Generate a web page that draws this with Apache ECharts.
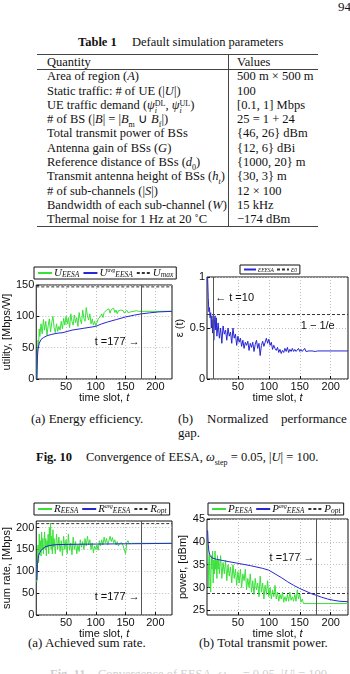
<!DOCTYPE html>
<html>
<head>
<meta charset="utf-8">
<script src="https://cdn.jsdelivr.net/npm/echarts@6/dist/echarts.min.js"></script>
<style>
body { margin: 0; background: #fff; }
#page { position: relative; width: 350px; height: 674px; overflow: hidden; font-family: 'Liberation Serif', serif; color: #111; }
.t { position: absolute; white-space: nowrap; font-size: 13px; line-height: 14px; }
.c { font-size: 12.5px; }
.rule { position: absolute; background: #444; }
.ss { display: inline-block; vertical-align: -4px; line-height: 7px; font-size: 8px; text-align: left; }
#chart { position: absolute; left: 0; top: 0; width: 350px; height: 674px; }
i { font-style: italic; }
</style>
</head>
<body>
<div id="page">
  <div class="t" style="left:338px;top:0px;">94</div>

  <div class="t c" style="left:78px;top:35px;"><b>Table 1</b></div>
  <div class="t c" style="left:132px;top:35px;">Default simulation parameters</div>

  <div class="rule" style="left:37px;top:54px;width:281px;height:1px;"></div>
  <div class="rule" style="left:37px;top:69px;width:281px;height:1px;"></div>
  <div class="rule" style="left:37px;top:226px;width:281px;height:1px;"></div>
  <div class="rule" style="left:228px;top:54px;width:1px;height:173px;"></div>

  <div class="t c" style="left:47px;top:54.5px;">Quantity</div>
  <div class="t c" style="left:237px;top:54.5px;">Values</div>

  <div class="t c" style="left:47px;top:69.2px;">Area of region (<i>A</i>)</div>
  <div class="t c" style="left:237px;top:69.2px;">500 m × 500 m</div>
  <div class="t c" style="left:47px;top:83.5px;">Static traffic: # of UE (|<i>U</i>|)</div>
  <div class="t c" style="left:237px;top:83.5px;">100</div>
  <div class="t c" style="left:47px;top:97.8px;">UE traffic demand (<i>ψ</i><span class="ss">DL<br><i>i</i></span>, <i>ψ</i><span class="ss">UL<br><i>i</i></span>)</div>
  <div class="t c" style="left:237px;top:97.8px;">[0.1, 1] Mbps</div>
  <div class="t c" style="left:47px;top:112.1px;"># of BS (|<i>B</i>| = |<i>B</i><sub style="font-size:8px">m</sub> ∪ <i>B</i><sub style="font-size:8px">f</sub>|)</div>
  <div class="t c" style="left:237px;top:112.1px;">25 = 1 + 24</div>
  <div class="t c" style="left:47px;top:126.4px;">Total transmit power of BSs</div>
  <div class="t c" style="left:237px;top:126.4px;">{46, 26} dBm</div>
  <div class="t c" style="left:47px;top:140.7px;">Antenna gain of BSs (<i>G</i>)</div>
  <div class="t c" style="left:237px;top:140.7px;">{12, 6} dBi</div>
  <div class="t c" style="left:47px;top:155px;">Reference distance of BSs (<i>d</i><sub style="font-size:8px">0</sub>)</div>
  <div class="t c" style="left:237px;top:155px;">{1000, 20} m</div>
  <div class="t c" style="left:47px;top:169.3px;">Transmit antenna height of BSs (<i>h<sub style="font-size:8px">t</sub></i>)</div>
  <div class="t c" style="left:237px;top:169.3px;">{30, 3} m</div>
  <div class="t c" style="left:47px;top:183.6px;"># of sub-channels (|<i>S</i>|)</div>
  <div class="t c" style="left:237px;top:183.6px;">12 × 100</div>
  <div class="t c" style="left:47px;top:197.9px;">Bandwidth of each sub-channel (<i>W</i>)</div>
  <div class="t c" style="left:237px;top:197.9px;">15 kHz</div>
  <div class="t c" style="left:47px;top:212.2px;">Thermal noise for 1 Hz at 20 ˚C</div>
  <div class="t c" style="left:237px;top:212.2px;">−174 dBm</div>

  <div class="t" style="left:31px;top:412px;">(a) Energy efficiency.</div>
  <div class="t" style="left:178px;top:412px;">(b)</div>
  <div class="t" style="left:207px;top:412px;">Normalized</div>
  <div class="t" style="left:281px;top:412px;">performance</div>
  <div class="t" style="left:178px;top:426px;">gap.</div>
  <div class="t c" style="left:36px;top:450px;"><b>Fig. 10</b></div>
  <div class="t c" style="left:86px;top:450px;">Convergence of EESA, <i>ω</i><sub style="font-size:8px">step</sub> = 0.05, |<i>U</i>| = 100.</div>

  <div class="t" style="left:28px;top:636px;">(a) Achieved sum rate.</div>
  <div class="t" style="left:199px;top:636px;">(b) Total transmit power.</div>
  <div class="t c" style="left:50px;top:667px;color:#d0d0d0;"><b>Fig. 11</b>&nbsp;&nbsp;&nbsp;&nbsp;Convergence of EESA, <i>ω</i><sub style="font-size:8px">step</sub> = 0.05, |<i>U</i>| = 100.</div>

  <div id="chart"></div>
</div>
<script>
// ---- data (time slot, value) ----
const xTicks = [50, 100, 150, 200];
const tMax = 228;

// (a) energy efficiency
const uTicks = [0, 50, 100, 150];
const uEesa = [[1,0],[2,40],[3,62],[4,55],[5,80],[6,68],[8,88],[10,72],[12,95],[14,78],[16,92],[18,70],[20,85],[22,96],[24,75],[26,90],[28,100],[30,82],[32,74],[34,88],[36,76],[38,84],[40,78],[42,92],[44,80],[46,97],[48,86],[50,100],[52,88],[54,98],[56,82],[58,104],[60,92],[62,86],[64,102],[66,90],[68,98],[70,84],[72,106],[74,95],[76,88],[78,110],[80,97],[82,92],[84,114],[86,100],[88,94],[90,104],[92,88],[94,96],[96,86],[98,92],[100,85],[102,90],[104,96],[106,93],[108,100],[110,104],[112,98],[114,106],[116,103],[118,110],[120,107],[122,112],[124,105],[126,111],[128,108],[130,113],[132,106],[134,110],[136,104],[138,109],[140,106],[142,110],[144,107],[146,109],[148,105],[150,108],[152,110],[154,106],[156,109],[158,107],[160,109],[164,108],[168,109],[172,108],[177,108],[228,108]];
const uAvg = [[1,0],[2,35],[3,48],[5,57],[8,63],[12,66],[18,69],[25,71],[35,73],[45,74],[60,78],[80,81],[100,84],[110,88],[120,91],[135,95],[150,99],[165,102],[177,104],[190,105.5],[205,107],[228,108]];
const uMax = 147;

// (b) normalized performance gap
const eTicks = [0, 0.5, 1];
const eps = [[1,1.0],[2,0.8],[3,0.66],[4,0.7],[5,0.6],[6,0.65],[7,0.5],[8,0.62],[9,0.45],[10,0.58],[11,0.38],[12,0.55],[13,0.62],[14,0.48],[15,0.6],[16,0.42],[18,0.55],[20,0.4],[22,0.5],[24,0.35],[26,0.52],[28,0.44],[30,0.48],[32,0.38],[34,0.5],[36,0.42],[38,0.46],[40,0.35],[42,0.5],[44,0.4],[46,0.44],[48,0.33],[50,0.42],[52,0.36],[54,0.4],[56,0.32],[58,0.38],[60,0.3],[62,0.36],[64,0.33],[66,0.37],[68,0.28],[70,0.35],[72,0.31],[74,0.36],[76,0.27],[78,0.34],[80,0.38],[82,0.3],[84,0.35],[86,0.23],[88,0.33],[90,0.37],[92,0.32],[94,0.36],[96,0.4],[98,0.35],[100,0.39],[102,0.33],[104,0.36],[106,0.29],[108,0.33],[110,0.3],[112,0.28],[114,0.31],[116,0.26],[118,0.29],[120,0.25],[122,0.28],[124,0.26],[126,0.3],[128,0.27],[130,0.31],[132,0.26],[134,0.29],[136,0.27],[138,0.3],[140,0.27],[142,0.29],[144,0.27],[146,0.28],[148,0.3],[150,0.27],[152,0.29],[154,0.27],[156,0.28],[158,0.3],[160,0.27],[165,0.275],[170,0.275],[175,0.27],[177,0.26],[179,0.275],[228,0.275]];
const eps0 = 0.632;

// (a) achieved sum rate
const rTicks = [0, 50, 100, 150, 200];
const rEesa = [[1,75],[2,130],[3,160],[4,120],[5,185],[6,145],[7,170],[8,135],[9,190],[10,150],[11,175],[12,140],[13,165],[14,190],[15,150],[16,175],[17,135],[18,170],[19,155],[20,185],[21,140],[22,200],[23,160],[24,210],[25,150],[26,180],[27,140],[28,195],[29,155],[30,175],[32,140],[34,185],[36,150],[38,178],[40,145],[42,170],[44,135],[46,180],[48,150],[50,172],[52,140],[54,185],[56,148],[58,165],[60,138],[62,178],[64,150],[66,168],[68,140],[70,160],[72,145],[74,172],[76,155],[78,168],[80,150],[82,175],[84,158],[86,180],[88,160],[90,172],[92,150],[94,165],[96,142],[98,158],[100,150],[102,160],[104,148],[106,170],[108,158],[110,172],[112,160],[114,178],[116,165],[118,175],[120,160],[122,170],[124,180],[126,168],[128,177],[130,165],[132,172],[134,160],[136,168],[138,158],[140,164],[142,160],[144,165],[146,158],[148,162],[150,140],[152,165],[154,170],[156,163],[160,164],[228,164]];
const rAvg = [[1,80],[2,115],[3,128],[4,136],[6,143],[8,148],[11,152],[15,156],[20,158],[27,160],[35,161],[50,161.5],[80,162],[120,162.5],[160,163],[200,163.5],[228,164]];
const rOpt = 209;

// (b) total transmit power
const pTicks = [25, 30, 35, 40, 45];
const pEesa = [[1,40],[2,36],[3,30],[4,37],[5,33],[6,29],[7,37],[8,34],[9,38],[10,31],[11,36],[12,33],[13,38],[14,34],[15,36],[16,32],[17,37],[18,34],[19,36],[20,33],[22,37],[24,32],[26,35.5],[28,33],[30,36],[32,31.5],[34,35],[36,32.5],[38,34.5],[40,31],[42,35],[44,32],[46,34],[48,30.5],[50,33.5],[52,31],[54,34],[56,30],[58,33],[60,31.5],[62,34],[64,29.5],[66,32],[68,30],[70,33],[72,29],[74,31.5],[76,28.5],[78,32],[80,29.5],[82,31],[84,28],[86,32.5],[88,29],[90,31],[92,27.5],[94,30.5],[96,28.5],[98,31.5],[100,28],[102,30],[104,27.5],[106,29.5],[108,28],[110,30.5],[112,27.5],[114,29],[116,27],[118,28.5],[120,27.5],[122,29],[124,26.8],[126,28],[128,27],[130,28.5],[132,27],[134,29],[136,27.2],[138,28],[140,27],[142,28.5],[144,27],[146,29.5],[148,27.5],[150,28.5],[152,26.8],[154,27.5],[156,26.5],[228,26.5]];
const pAvg = [[1,42.5],[2,39.5],[3,38],[5,37],[8,36.5],[15,36.2],[30,35.8],[50,35.3],[70,34.8],[90,34.2],[100,33.8],[110,33],[120,32.2],[130,31.3],[140,30.5],[150,29.8],[160,29.2],[170,28.6],[177,28.3],[185,27.9],[195,27.5],[205,27.2],[215,27],[228,26.9]];
const pOpt = 28.7;

const GREEN = '#38e038';
const BLUE = '#2626d2';
const SANS = 'Liberation Sans';
const SERIF = 'Liberation Serif';

const chart = echarts.init(document.getElementById('chart'));

const grids = [
  { left: 34, top: 285, width: 138, height: 94 },
  { left: 207, top: 277, width: 141, height: 102 },
  { left: 34, top: 521, width: 138, height: 94 },
  { left: 207, top: 519, width: 141, height: 96 }
].map(g => Object.assign({ show: true, borderColor: '#111', borderWidth: 1, backgroundColor: 'transparent' }, g));

const dotted = { show: true, lineStyle: { color: '#bdbdbd', type: [1, 2], width: 1 } };

function xAx(i, gap, labelMargin) {
  return {
    type: 'value', gridIndex: i, min: 0, max: tMax,
    axisLine: { show: false },
    axisTick: { inside: true, length: 3, customValues: xTicks, lineStyle: { color: '#111' } },
    axisLabel: { customValues: xTicks, margin: labelMargin, fontSize: 11, color: '#111', fontFamily: SANS },
    splitLine: dotted,
    name: 'time slot, {i|t}', nameLocation: 'middle', nameGap: gap,
    nameTextStyle: { fontSize: 11, color: '#111', fontFamily: SANS, rich: { i: { fontStyle: 'italic', fontSize: 11, fontFamily: SANS } } }
  };
}
function yAx(i, min, max, ticks, name, gap) {
  return {
    type: 'value', gridIndex: i, min: min, max: max,
    axisLine: { show: false },
    axisTick: { inside: true, length: 3, customValues: ticks, lineStyle: { color: '#111' } },
    axisLabel: { customValues: ticks, margin: 2, fontSize: 11, color: '#111', fontFamily: SANS },
    splitLine: dotted,
    name: name, nameLocation: 'middle', nameGap: gap,
    nameTextStyle: { fontSize: 11, color: '#111', fontFamily: SANS }
  };
}

function line(name, i, data, color, z) {
  return {
    type: 'line', name: name, xAxisIndex: i, yAxisIndex: i, data: data,
    symbol: 'none', showSymbol: false, silent: true, z: z,
    lineStyle: { color: color, width: 1 }, itemStyle: { color: color }
  };
}
function level(name, i, v) {
  const s = line(name, i, [[0, v], [tMax, v]], '#333', 1);
  s.lineStyle.type = [3, 2];
  return s;
}
function vLine(t) {
  return { silent: true, symbol: 'none', label: { show: false }, lineStyle: { color: '#555', type: 'solid', width: 1 }, data: [{ xAxis: t }] };
}
function note(coord, text, pos) {
  return {
    symbol: 'circle', symbolSize: 0, silent: true,
    data: [{ coord: coord, label: { show: true, position: pos, distance: 2, formatter: text, color: '#111', fontSize: 11, fontFamily: SANS } }]
  };
}

const legendText = {
  U_EESA: '{m|U}{s|EESA}', U_avg: '{m|U}{p|avg}{s|EESA}', U_max: '{m|U}{s|max}',
  e_EESA: '{m2|ε}{s2|EESA}', e_0: '{m2|ε}{s2|0}',
  R_EESA: '{m|R}{s|EESA}', R_avg: '{m|R}{p|avg}{s|EESA}', R_opt: '{m|R}{s|opt}',
  P_EESA: '{m|P}{s|EESA}', P_avg: '{m|P}{p|avg}{s|EESA}', P_opt: '{m|P}{s|opt}'
};
const rich = {
  m: { fontFamily: SERIF, fontStyle: 'italic', fontSize: 11, lineHeight: 12, color: '#111' },
  s: { fontFamily: SERIF, fontStyle: 'italic', fontSize: 7.5, lineHeight: 8, padding: [4, 0, 0, 0], color: '#111' },
  p: { fontFamily: SERIF, fontStyle: 'italic', fontSize: 5.5, lineHeight: 7, padding: [0, 0, 5, 0], color: '#111' },
  m2: { fontFamily: SERIF, fontStyle: 'italic', fontSize: 8, lineHeight: 9, color: '#111' },
  s2: { fontFamily: SERIF, fontStyle: 'italic', fontSize: 5.5, lineHeight: 6, padding: [3, 0, 0, 0], color: '#111' }
};
function legend(left, top, names, w, gap) {
  return {
    left: left, top: top, data: names, orient: 'horizontal', selectedMode: false,
    borderColor: '#111', borderWidth: 1, borderRadius: 0, padding: [0, 3, 0, 3],
    itemWidth: w, itemHeight: 8, itemGap: gap,
    itemStyle: { opacity: 0 },
    formatter: n => legendText[n], textStyle: { rich: rich, padding: [0, 0, 0, -3] }
  };
}

const uA = line('U_avg', 0, uAvg, BLUE, 3);
uA.markLine = vLine(177);
uA.markPoint = note([177, 59], 't =177 →', 'left');

const eS = line('e_EESA', 1, eps, BLUE, 3);
eS.markLine = vLine(10);
eS.markPoint = {
  symbol: 'circle', symbolSize: 0, silent: true,
  data: [
    { coord: [10, 0.79], label: { show: true, position: 'right', distance: 2, formatter: '← t =10', color: '#111', fontSize: 11, fontFamily: SANS } },
    { coord: [179, 0.52], label: { show: true, position: 'inside', formatter: '1 − 1/e', color: '#111', fontSize: 11, fontFamily: SANS } }
  ]
};

const rA = line('R_avg', 2, rAvg, BLUE, 3);
rA.markLine = vLine(177);
rA.markPoint = note([177, 42], 't =177 →', 'left');

const pA = line('P_avg', 3, pAvg, BLUE, 3);
pA.markLine = vLine(177);
pA.markPoint = note([177, 36.4], 't =177 →', 'left');

chart.setOption({
  animation: false,
  textStyle: { fontFamily: SANS },
  grid: grids,
  xAxis: [xAx(0, 11, 2), xAx(1, 11, 2), xAx(2, 13, 2), xAx(3, 13, 2)],
  yAxis: [
    yAx(0, 0, 150, uTicks, 'utility, [Mbps/W]', 21),
    yAx(1, 0, 1, eTicks, 'ε (t)', 17),
    yAx(2, 0, 215, rTicks, 'sum rate, [Mbps]', 21),
    yAx(3, 24, 45, pTicks, 'power, [dBm]', 15)
  ],
  legend: [
    legend(34, 267, ['U_EESA', 'U_avg', 'U_max'], 14, 3),
    legend(240, 265, ['e_EESA', 'e_0'], 12, 2),
    legend(34, 503, ['R_EESA', 'R_avg', 'R_opt'], 14, 3),
    legend(208, 503, ['P_EESA', 'P_avg', 'P_opt'], 14, 3)
  ],
  series: [
    level('U_max', 0, uMax),
    line('U_EESA', 0, uEesa, GREEN, 2),
    uA,
    level('e_0', 1, eps0),
    eS,
    level('R_opt', 2, rOpt),
    line('R_EESA', 2, rEesa, GREEN, 2),
    rA,
    level('P_opt', 3, pOpt),
    line('P_EESA', 3, pEesa, GREEN, 2),
    pA
  ]
});
</script>
</body>
</html>
